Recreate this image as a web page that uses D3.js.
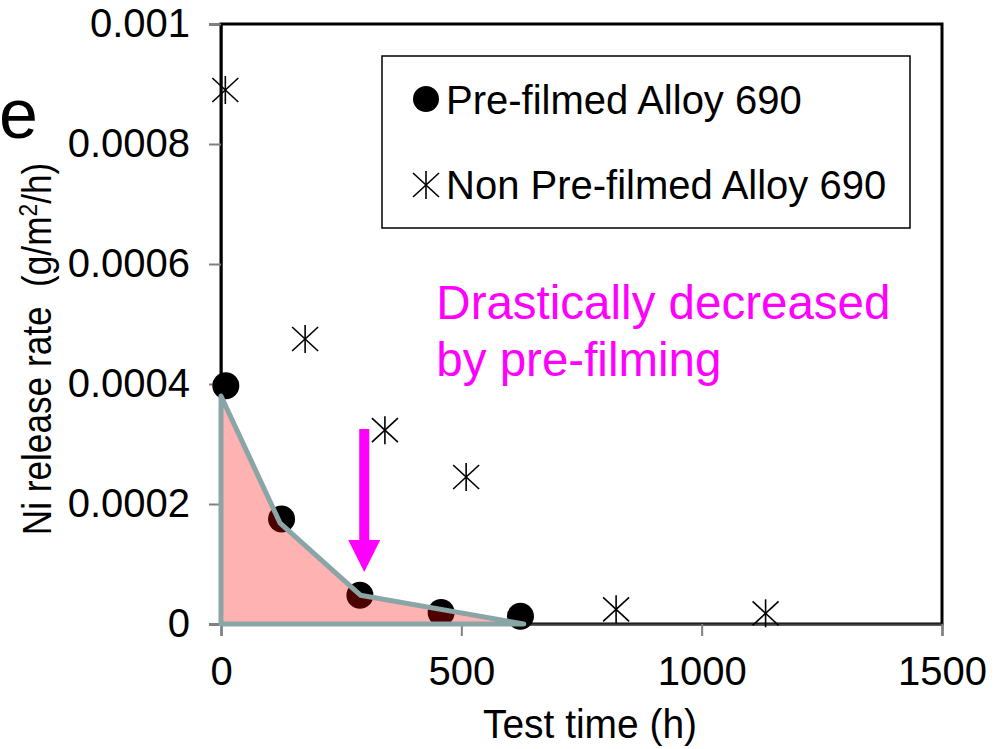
<!DOCTYPE html>
<html>
<head>
<meta charset="utf-8">
<script src="https://cdn.jsdelivr.net/npm/d3@7"></script>
<style>
  body { margin: 0; background: #fff; }
  svg { display: block; font-family: "Liberation Sans", Arial, sans-serif; }
</style>
</head>
<body>
<div id="chart"></div>
<script>
// data
const preTime = [10, 126, 289, 458, 623];
const preRate = [0.000397, 0.000175, 0.000048, 0.000019, 0.000013];

const nonTime = [9, 175, 341, 510, 822, 1133];
const nonRate = [0.00089, 0.000475, 0.000323, 0.000245, 0.0000245, 0.0000178];

// shaded envelope under the pre-filmed points
const guideTime = [0, 0, 123, 290, 630];
const guideRate = [0, 0.00038, 0.000168, 0.000048, 0];

const xTicks = [0, 500, 1000, 1500];
const yTicks = [0, 0.0002, 0.0004, 0.0006, 0.0008, 0.001];

const legendLabels = ["Pre-filmed Alloy 690", "Non Pre-filmed Alloy 690"];

// set the dimensions and margins of the graph
const margin = {top: 24, right: 57, bottom: 125, left: 221},
    width = 999 - margin.left - margin.right,
    height = 749 - margin.top - margin.bottom;

const svg = d3.select("#chart")
    .append("svg")
        .attr("width", 999)
        .attr("height", 749);

const g = svg.append("g")
    .attr("transform", `translate(${margin.left}, ${margin.top})`);

const x = d3.scaleLinear().domain([0, 1500]).range([0, width]);
const y = d3.scaleLinear().domain([0, 0.001]).range([height, 0]);

// plot frame (top / right borders)
g.append("rect")
    .attr("width", width)
    .attr("height", height)
    .attr("fill", "none")
    .attr("stroke", "#000")
    .attr("stroke-width", 3);

// y axis
const yAxis = g.append("g")
    .call(d3.axisLeft(y)
        .tickValues(yTicks)
        .tickSize(12)
        .tickPadding(19)
        .tickFormat(d => d === 0 ? "0" : String(+d.toFixed(4))));
yAxis.select(".domain").attr("stroke", "#000").attr("stroke-width", 2);
yAxis.selectAll(".tick line").attr("stroke", "#808080").attr("stroke-width", 2);
yAxis.selectAll(".tick text")
    .attr("fill", "#000")
    .style("font-size", "40px");

// x axis
const xAxis = g.append("g")
    .attr("transform", `translate(0, ${height})`)
    .call(d3.axisBottom(x)
        .tickValues(xTicks)
        .tickSize(12)
        .tickPadding(21)
        .tickFormat(d3.format("d")));
xAxis.select(".domain").attr("stroke", "#404040").attr("stroke-width", 2);
xAxis.selectAll(".tick line").attr("stroke", "#808080").attr("stroke-width", 2);
xAxis.selectAll(".tick text")
    .attr("fill", "#000")
    .style("font-size", "40px");

// axis titles
svg.append("text")
    .attr("x", 590)
    .attr("y", 738)
    .attr("text-anchor", "middle")
    .attr("textLength", 214)
    .attr("lengthAdjust", "spacingAndGlyphs")
    .style("font-size", "40px")
    .text("Test time (h)");

// y title: squeezed along its length like the original
const yTitle = svg.append("text")
    .attr("transform", "translate(51, 349) rotate(-90) scale(0.88, 1)")
    .attr("text-anchor", "middle")
    .style("font-size", "40px")
    .style("white-space", "pre");
yTitle.append("tspan").text("Ni release rate  (g/m");
yTitle.append("tspan").attr("dy", -14).style("font-size", "26px").text("2");
yTitle.append("tspan").attr("dy", 14).text("/h)");

// panel letter, cut by the left edge
svg.append("text")
    .attr("x", -1)
    .attr("y", 138)
    .style("font-size", "70px")
    .text("e");

// pre-filmed points
g.selectAll(".pre")
    .data(preTime.map((t, i) => [t, preRate[i]]))
    .join("circle")
    .attr("class", "pre")
    .attr("cx", d => x(d[0]))
    .attr("cy", d => y(d[1]))
    .attr("r", 13.5)
    .attr("fill", "#000");

// non pre-filmed points (asterisk markers)
function star(sel) {
    sel.append("line").attr("x1", -13).attr("y1", -12).attr("x2", 13).attr("y2", 12);
    sel.append("line").attr("x1", -13).attr("y1", 12).attr("x2", 13).attr("y2", -12);
    sel.append("line").attr("x1", 0).attr("y1", -14).attr("x2", 0).attr("y2", 14);
    sel.selectAll("line").attr("stroke", "#000").attr("stroke-width", 1.6);
}

g.selectAll(".non")
    .data(nonTime.map((t, i) => [t, nonRate[i]]))
    .join("g")
    .attr("class", "non")
    .attr("transform", d => `translate(${x(d[0])}, ${y(d[1])})`)
    .call(star);

// translucent envelope drawn over the points
const area = d3.line()
    .x(d => x(d[0]))
    .y(d => y(d[1]));

g.append("path")
    .datum(guideTime.map((t, i) => [t, guideRate[i]]))
    .attr("d", d => area(d) + "Z")
    .attr("fill", "rgba(255,0,0,0.3)")
    .attr("stroke", "#8aa5a5")
    .attr("stroke-width", 5)
    .attr("stroke-linejoin", "round");

// legend
const legend = svg.append("g");
legend.append("rect")
    .attr("x", 382)
    .attr("y", 56)
    .attr("width", 528)
    .attr("height", 172)
    .attr("fill", "#fff")
    .attr("stroke", "#000")
    .attr("stroke-width", 1.5);
legend.append("circle")
    .attr("cx", 426)
    .attr("cy", 99)
    .attr("r", 13)
    .attr("fill", "#000");
legend.append("g")
    .attr("transform", "translate(426, 185)")
    .call(star);
legend.selectAll(".lab")
    .data(legendLabels)
    .join("text")
    .attr("class", "lab")
    .attr("x", 446)
    .attr("y", (d, i) => i === 0 ? 114 : 199)
    .style("font-size", "40px")
    .text(d => d);

// annotation arrow
const arrowX = 298, arrowTop = 0.000325, arrowHead = 0.00014, arrowTip = 0.0000867;
const ax = x(arrowX);
g.append("path")
    .attr("d", `M${ax - 5},${y(arrowTop)} L${ax + 5},${y(arrowTop)} L${ax + 5},${y(arrowHead)}
                L${ax + 16},${y(arrowHead)} L${ax},${y(arrowTip)} L${ax - 16},${y(arrowHead)}
                L${ax - 5},${y(arrowHead)} Z`)
    .attr("fill", "#ff00ff");

// annotation text
const note = g.append("text")
    .attr("fill", "#ff00ff")
    .style("font-size", "47.5px");
note.append("tspan").attr("x", x(448)).attr("y", y(0.000508)).text("Drastically decreased");
note.append("tspan").attr("x", x(448)).attr("y", y(0.000413)).text("by pre-filming");
</script>
</body>
</html>
